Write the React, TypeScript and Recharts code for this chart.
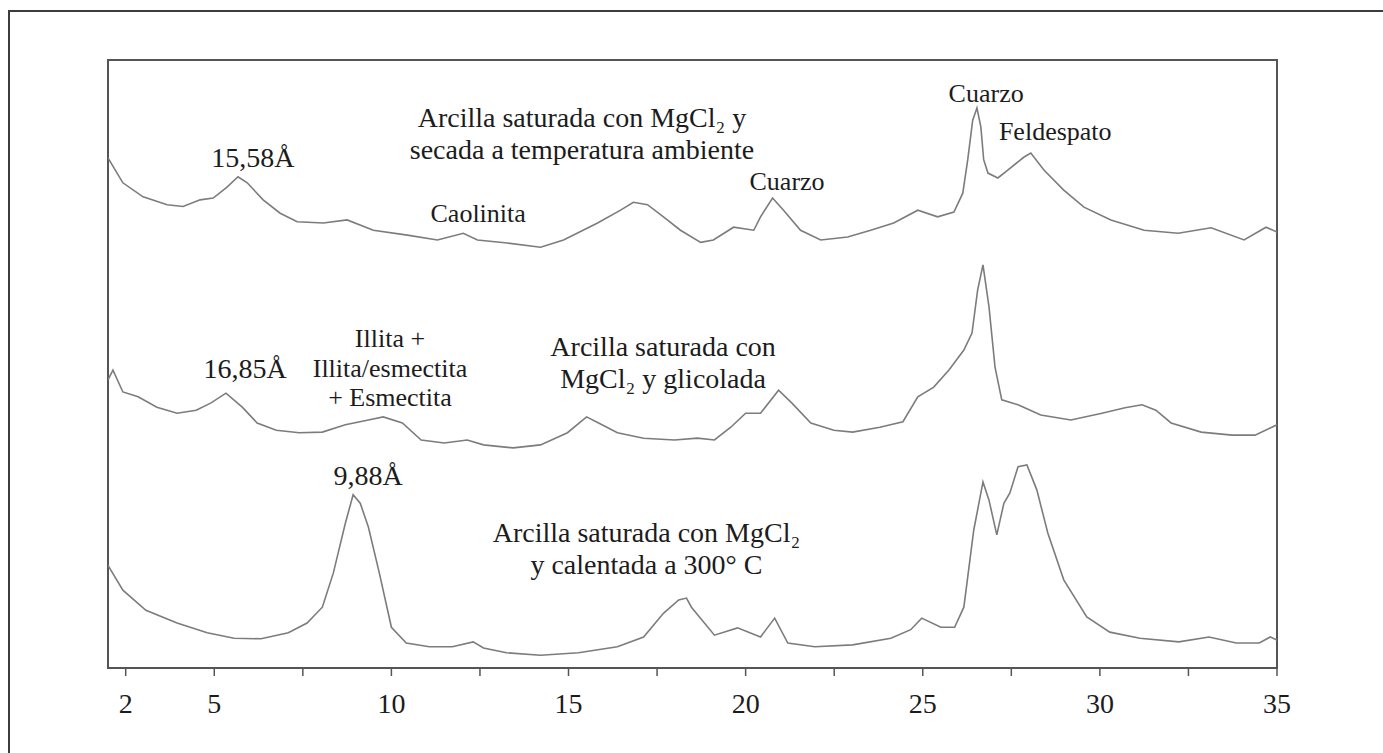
import { LineChart, Line, XAxis, YAxis, ReferenceDot, ReferenceArea } from "recharts"

// 2θ (degrees) vs intensity (arbitrary, traces already offset)
const SECADA: [number, number][] = [
  [2.0, 83.9], [2.42, 79.8], [2.99, 77.5], [3.67, 76.2], [4.12, 75.9], [4.6, 77.0], [4.97, 77.3],
  [5.36, 79.1], [5.67, 80.8], [5.93, 79.8], [6.38, 77.0], [6.86, 74.8], [7.34, 73.4], [8.08, 73.2],
  [8.75, 73.7], [9.49, 72.0], [10.45, 71.2], [11.3, 70.4], [12.03, 71.5], [12.43, 70.4], [13.27, 69.9],
  [14.21, 69.2], [14.86, 70.4], [15.82, 73.2], [16.47, 75.3], [16.83, 76.6], [17.23, 76.2], [17.68, 74.2],
  [18.16, 72.0], [18.73, 70.0], [19.09, 70.4], [19.66, 72.5], [20.23, 72.0], [20.42, 74.2], [20.76, 77.3],
  [21.07, 75.3], [21.55, 72.0], [22.12, 70.4], [22.88, 70.9], [23.53, 72.0], [24.18, 73.2], [24.86, 75.3],
  [25.42, 74.2], [25.88, 75.0], [26.13, 78.1], [26.27, 83.6], [26.41, 90.1], [26.53, 92.1], [26.64, 89.0],
  [26.72, 83.6], [26.84, 81.4], [27.12, 80.6], [27.4, 81.9], [27.85, 84.0], [28.05, 84.7], [28.42, 81.9],
  [28.98, 78.6], [29.55, 75.8], [30.31, 73.7], [31.25, 72.0], [32.21, 71.5], [33.14, 72.4], [34.07, 70.4],
  [34.69, 72.5], [35.0, 71.7],
]

const GLICOLADA: [number, number][] = [
  [2.0, 47.4], [2.14, 49.0], [2.42, 45.4], [2.85, 44.6], [3.38, 42.9], [3.95, 41.9], [4.49, 42.4],
  [4.91, 43.6], [5.33, 45.2], [5.79, 42.9], [6.21, 40.3], [6.75, 39.1], [7.4, 38.7], [8.05, 38.8],
  [8.7, 40.0], [9.35, 40.8], [9.77, 41.3], [10.31, 40.3], [10.84, 37.5], [11.49, 37.0], [12.14, 37.5],
  [12.6, 36.7], [13.44, 36.2], [14.21, 36.7], [14.97, 38.7], [15.51, 41.3], [15.85, 40.3], [16.38, 38.7],
  [17.12, 37.8], [17.99, 37.5], [18.64, 37.8], [19.12, 37.5], [19.58, 39.6], [20.0, 41.9], [20.42, 41.9],
  [20.93, 45.7], [21.3, 43.6], [21.84, 40.3], [22.49, 39.1], [23.02, 38.8], [23.79, 39.6], [24.44, 40.5],
  [24.86, 44.6], [25.31, 46.2], [25.74, 49.0], [26.16, 52.3], [26.39, 55.1], [26.55, 62.2], [26.7, 66.3],
  [26.87, 59.4], [27.04, 49.5], [27.23, 44.1], [27.69, 43.3], [28.33, 41.6], [29.18, 40.8], [30.06, 41.9],
  [30.71, 42.8], [31.19, 43.3], [31.58, 42.4], [32.01, 40.3], [32.86, 38.8], [33.73, 38.3], [34.38, 38.3],
  [35.0, 40.0],
]

const CALENTADA: [number, number][] = [
  [2.0, 16.9], [2.08, 16.1], [2.42, 12.8], [3.07, 9.5], [3.95, 7.4], [4.8, 5.8], [5.56, 4.9], [6.32, 4.8],
  [7.09, 5.8], [7.62, 7.4], [8.05, 10.0], [8.36, 15.6], [8.7, 23.8], [8.92, 28.5], [9.12, 27.1], [9.35, 23.2],
  [9.66, 15.6], [10.0, 6.7], [10.42, 4.1], [11.07, 3.5], [11.72, 3.5], [12.31, 4.3], [12.6, 3.3], [13.25, 2.5],
  [14.21, 2.1], [15.28, 2.5], [16.38, 3.5], [17.12, 5.1], [17.68, 9.0], [18.11, 11.2], [18.33, 11.5],
  [18.47, 10.0], [19.12, 5.4], [19.77, 6.6], [20.42, 5.1], [20.82, 8.2], [21.19, 4.1], [21.95, 3.5],
  [23.02, 3.8], [24.1, 4.9], [24.66, 6.3], [24.97, 8.2], [25.51, 6.7], [25.9, 6.7], [26.16, 10.0],
  [26.44, 22.7], [26.7, 30.6], [26.87, 27.6], [27.09, 21.9], [27.29, 27.1], [27.46, 28.8], [27.69, 33.1],
  [27.94, 33.4], [28.22, 29.3], [28.53, 22.2], [28.98, 14.5], [29.63, 8.4], [30.28, 5.9], [31.13, 4.9],
  [32.23, 4.3], [33.08, 5.1], [33.85, 4.1], [34.5, 4.1], [34.81, 5.1], [35.0, 4.6],
]

const TICKS = [2.5, 5, 7.5, 10, 12.5, 15, 17.5, 20, 22.5, 25, 27.5, 30, 32.5, 35]
const TICK_LABELS = ["2", "5", "", "10", "", "15", "", "20", "", "25", "", "30", "", "35"]

// annotation anchor = [2θ, intensity] of the first line's baseline centre
const ANNOTATIONS: { at: [number, number]; lines: string[]; big: boolean }[] = [
  { at: [6.09, 82.4], lines: ["15,58Å"], big: true },
  { at: [15.38, 89.0], lines: ["Arcilla saturada con MgCl₂ y", "secada a temperatura ambiente"], big: true },
  { at: [12.45, 73.4], lines: ["Caolinita"], big: false },
  { at: [21.17, 78.6], lines: ["Cuarzo"], big: false },
  { at: [26.79, 93.1], lines: ["Cuarzo"], big: false },
  { at: [28.74, 86.8], lines: ["Feldespato"], big: false },
  { at: [5.87, 47.7], lines: ["16,85Å"], big: true },
  { at: [9.96, 52.8], lines: ["Illita +", "Illita/esmectita", "+ Esmectita"], big: false },
  { at: [17.67, 51.3], lines: ["Arcilla saturada con", "MgCl₂ y glicolada"], big: true },
  { at: [9.34, 30.1], lines: ["9,88Å"], big: true },
  { at: [17.2, 20.7], lines: ["Arcilla saturada con MgCl₂", "y calentada a 300° C"], big: true },
]

const toRows = (pts: [number, number][]) => pts.map(([x, y]) => ({ x, y }))

const FONT = "'Liberation Serif', 'Times New Roman', serif"
const TRACE = "#7c7c7c"
const AXIS = "#555"

function Annotation(props: any) {
  const { viewBox, lines, size } = props
  const x = viewBox.x + (viewBox.width || 0) / 2
  const y = viewBox.y + (viewBox.height || 0) / 2
  return (
    <text x={x} y={y} textAnchor="middle" fontFamily={FONT} fontSize={size} fill="#1c1c1c">
      {lines.map((l: string, i: number) => (
        <tspan key={i} x={x} dy={i === 0 ? 0 : size * 1.14}>
          {l}
        </tspan>
      ))}
    </text>
  )
}

export default function App() {
  return (
    <div>
      <div
        style={{
          position: "absolute",
          left: 8,
          top: 10,
          width: 1375,
          height: 743,
          boxSizing: "border-box",
          borderTop: "2px solid #3c3c3c",
          borderLeft: "2px solid #3c3c3c",
        }}
      />
      <div style={{ position: "absolute", left: 0, top: 0 }}>
        <LineChart width={1383} height={753} margin={{ top: 60, left: 108, right: 106, bottom: 25 }}>
          <XAxis
            xAxisId="b"
            dataKey="x"
            type="number"
            domain={[2, 35]}
            ticks={TICKS}
            allowDataOverflow
            height={60}
            tickSize={8}
            tickMargin={17}
            interval={0}
            tickFormatter={(v: number) => TICK_LABELS[TICKS.indexOf(v)] ?? ""}
            axisLine={{ stroke: AXIS, strokeWidth: 2 }}
            tickLine={{ stroke: AXIS, strokeWidth: 1.5 }}
            tick={{ fontSize: 28, fill: "#1c1c1c", fontFamily: FONT }}
          />
          <YAxis yAxisId="l" type="number" domain={[0, 100]} allowDataOverflow width={0} hide />
          <ReferenceArea
            xAxisId="b"
            yAxisId="l"
            x1={2}
            x2={35}
            y1={0}
            y2={100}
            fill="none"
            fillOpacity={0}
            stroke={AXIS}
            strokeWidth={2}
          />
          {[SECADA, GLICOLADA, CALENTADA].map((pts, i) => (
            <Line
              key={i}
              xAxisId="b"
              yAxisId="l"
              data={toRows(pts)}
              dataKey="y"
              type="linear"
              stroke={TRACE}
              strokeWidth={1.6}
              dot={false}
              activeDot={false}
              isAnimationActive={false}
            />
          ))}
          {ANNOTATIONS.map((a, i) => (
            <ReferenceDot
              key={i}
              xAxisId="b"
              yAxisId="l"
              x={a.at[0]}
              y={a.at[1]}
              r={0}
              fill="none"
              stroke="none"
              label={(p: any) => <Annotation {...p} lines={a.lines} size={a.big ? 28 : 26} />}
            />
          ))}
        </LineChart>
      </div>
    </div>
  )
}
